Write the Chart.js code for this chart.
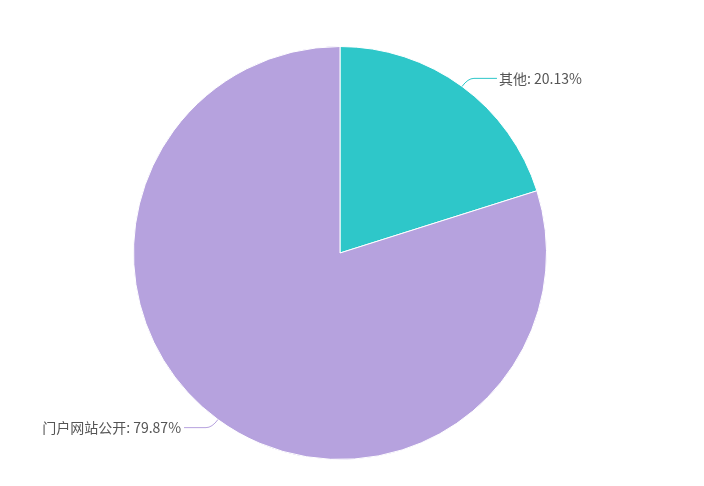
<!DOCTYPE html>
<html>
<head>
<meta charset="utf-8">
<script src="https://cdn.jsdelivr.net/npm/chart.js@4/dist/chart.umd.min.js"></script>
<style>
  html, body { margin: 0; padding: 0; background: #fff; }
  #wrap { width: 704px; height: 486px; }
</style>
</head>
<body>
<div id="wrap"><canvas id="pie"></canvas></div>
<script>
// chart data
const categories = ['其他', '门户网站公开'];
const shares = [20.13, 79.87];
const colors = ['#2ec7c9', '#b6a2de'];

// Leader lines + labels like echarts
const labelPlugin = {
  id: 'pieLabels',
  afterDatasetsDraw(chart) {
    const ctx = chart.ctx;
    const meta = chart.getDatasetMeta(0);
    ctx.save();
    ctx.font = '14px "Noto Sans CJK SC", sans-serif';
    ctx.textBaseline = 'middle';
    meta.data.forEach((arc, i) => {
      const mid = (arc.startAngle + arc.endAngle) / 2;
      const r = arc.outerRadius;
      const cos = Math.cos(mid), sin = Math.sin(mid);
      const x0 = arc.x + cos * r, y0 = arc.y + sin * r;
      const x1 = arc.x + cos * (r + 10), y1 = arc.y + sin * (r + 10);
      const right = cos >= 0;
      const x2 = x1 + (right ? 29 : -28);
      ctx.strokeStyle = colors[i];
      ctx.lineWidth = 1;
      ctx.beginPath();
      ctx.moveTo(x0, y0);
      ctx.quadraticCurveTo(x1, y1, x1 + (right ? 6 : -6), y1);
      ctx.lineTo(x2, y1);
      ctx.stroke();
      ctx.fillStyle = '#555';
      ctx.textAlign = right ? 'left' : 'right';
      ctx.fillText(categories[i] + ': ' + shares[i].toFixed(2) + '%', x2 + (right ? 2 : -3), y1);
    });
    ctx.restore();
  }
};

new Chart(document.getElementById('pie').getContext('2d'), {
  type: 'pie',
  data: {
    labels: categories,
    datasets: [
      {
        data: shares,
        backgroundColor: colors,
        borderColor: '#fff',
        borderWidth: 1,
        hoverOffset: 0,
      },
    ],
  },
  options: {
    responsive: true,
    maintainAspectRatio: false,
    animation: false,
    layout: { padding: { top: 46, bottom: 26, left: 133, right: 157 } },
    plugins: {
      legend: { display: false },
      tooltip: { enabled: false },
    },
  },
  plugins: [labelPlugin],
});
</script>
</body>
</html>
